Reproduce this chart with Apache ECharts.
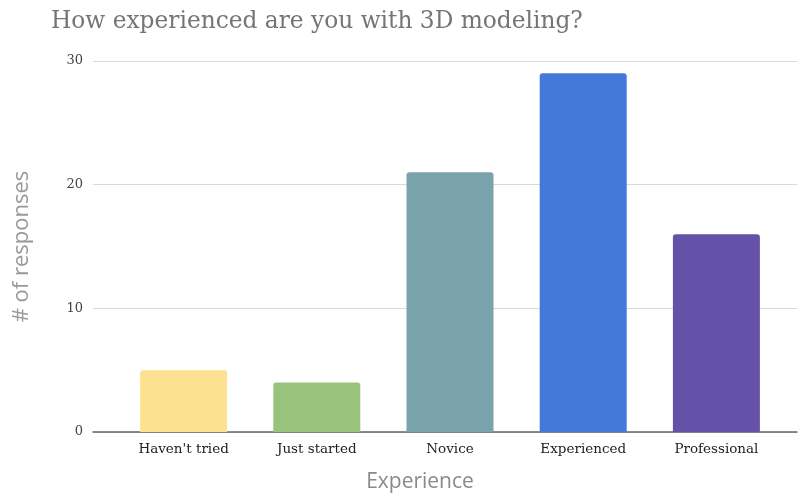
<!DOCTYPE html>
<html>
<head>
<meta charset="utf-8">
<script src="https://cdn.jsdelivr.net/npm/echarts@6/dist/echarts.min.js"></script>
<style>
  html, body { margin: 0; padding: 0; background: #fff; }
  #chart { width: 798px; height: 494px; }
</style>
</head>
<body>
<div id="chart"></div>
<script>
// Survey: experience level with 3D modeling
const categories = ["Haven't tried", "Just started", "Novice", "Experienced", "Professional"];
const responses = [5, 4, 21, 29, 16];
const barColors = ['#fce190', '#99c37c', '#7ba3ad', '#4479da', '#6452a8'];
const yTicks = { min: 0, max: 30, interval: 10 };

const serif = '"DejaVu Serif", "Liberation Serif", serif';
const sans = '"Open Sans", "Noto Sans", sans-serif';

const chart = echarts.init(document.getElementById('chart'), null, { renderer: 'canvas' });

chart.setOption({
  animation: false,
  backgroundColor: '#ffffff',
  title: {
    text: 'How experienced are you with 3D modeling?',
    left: 46,
    top: 5,
    textStyle: { fontFamily: serif, fontSize: 23.3, fontWeight: 'normal', color: '#757575' }
  },
  grid: [
    // value axis and horizontal gridlines
    { left: 93, right: 1, top: 61, bottom: 62, containLabel: false, outerBoundsMode: 'none' },
    // the bars sit in a slightly narrower band
    { left: 117, right: 15, top: 61, bottom: 62, containLabel: false, outerBoundsMode: 'none' }
  ],
  xAxis: [
    {
      gridIndex: 0, type: 'category', data: categories,
      axisLine: { show: true, lineStyle: { color: '#666', width: 1.5 } },
      axisTick: { show: false }, axisLabel: { show: false }, splitLine: { show: false },
      name: 'Experience', nameLocation: 'middle', nameGap: 40,
      nameTextStyle: { fontFamily: sans, fontSize: 21, color: '#8a8a8a', padding: [0, 50, 0, 0] }
    },
    {
      gridIndex: 1, type: 'category', data: categories,
      axisLine: { show: false }, axisTick: { show: false },
      axisLabel: { fontFamily: serif, fontSize: 13.5, color: '#222', margin: 10 }
    }
  ],
  yAxis: [
    {
      gridIndex: 0, type: 'value', min: yTicks.min, max: yTicks.max, interval: yTicks.interval,
      axisLine: { show: false }, axisTick: { show: false },
      axisLabel: { fontFamily: serif, fontSize: 13, color: '#444', margin: 10 },
      splitLine: { lineStyle: { color: '#d9d9d9', width: 1 } },
      name: '# of responses', nameLocation: 'middle', nameGap: 60,
      nameTextStyle: { fontFamily: sans, fontSize: 22, color: '#999' }
    },
    {
      gridIndex: 1, type: 'value', min: yTicks.min, max: yTicks.max, interval: yTicks.interval,
      show: false, splitLine: { show: false }
    }
  ],
  series: [{
    type: 'bar',
    xAxisIndex: 1, yAxisIndex: 1,
    barWidth: 87,
    data: responses.map((v, i) => ({
      value: v,
      itemStyle: { color: barColors[i], borderRadius: [3, 3, 0, 0] }
    }))
  }]
});
</script>
</body>
</html>
